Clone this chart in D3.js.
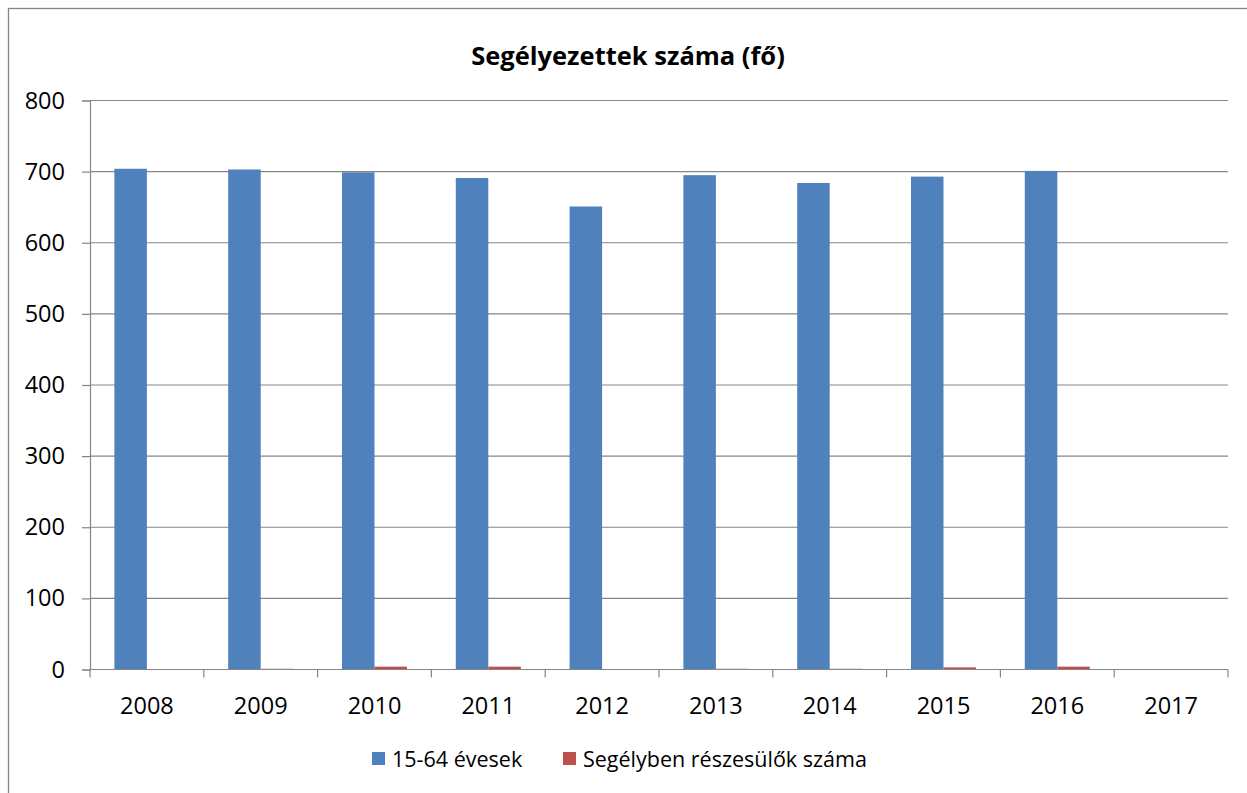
<!DOCTYPE html>
<html>
<head>
<meta charset="utf-8">
<script src="https://cdn.jsdelivr.net/npm/d3@7"></script>
<style>
  body { margin: 0; background: #fff; }
  text { font-family: 'Open Sans', 'Noto Sans', sans-serif; fill: #000; }
</style>
</head>
<body>
<svg id="chart"></svg>
<script>
const years = ['2008', '2009', '2010', '2011', '2012', '2013', '2014', '2015', '2016', '2017'];
const agedValues = [704, 703, 699, 691, 651, 695, 684, 693, 701, 0];
const aidValues = [0, 1, 4, 4, 0, 1, 1, 3, 4, 0];
const seriesNames = ['15-64 évesek', 'Segélyben részesülők száma'];
const seriesColors = ['#4f81bd', '#c0504d'];
const yTicks = [0, 100, 200, 300, 400, 500, 600, 700, 800];

const width = 1247;
const height = 793;
const margin = { top: 100.5, right: 19, bottom: 123.5, left: 90 };
const gridColor = '#868686';

const svg = d3.select('#chart')
  .attr('width', width)
  .attr('height', height);

// outer chart frame (runs off the right and bottom of the picture)
svg.append('rect')
  .attr('x', 8.5)
  .attr('y', 8.5)
  .attr('width', width + 20)
  .attr('height', height + 20)
  .attr('fill', 'none')
  .attr('stroke', gridColor)
  .attr('stroke-width', 1.3);

svg.append('text')
  .attr('x', 628)
  .attr('y', 65)
  .attr('font-size', '25.5px')
  .attr('font-weight', 'bold')
  .style('text-anchor', 'middle')
  .text('Segélyezettek száma (fő)');

const x = d3.scaleBand()
  .domain(years)
  .range([margin.left, width - margin.right])
  .paddingInner(0)
  .paddingOuter(0);

const inner = d3.scaleBand()
  .domain([0, 1])
  .range([0, x.bandwidth()])
  .paddingInner(0)
  .paddingOuter(0.75);

const y = d3.scaleLinear()
  .domain([0, 800])
  .range([height - margin.bottom, margin.top]);

// horizontal gridlines
svg.append('g')
  .selectAll('line')
  .data(yTicks.slice(1))
  .join('line')
  .attr('x1', margin.left)
  .attr('x2', width - margin.right)
  .attr('y1', d => y(d))
  .attr('y2', d => y(d))
  .attr('stroke', gridColor)
  .attr('stroke-width', 1.2);

const rows = years.map((yr, i) => ({ year: yr, values: [agedValues[i], aidValues[i]] }));

svg.append('g')
  .selectAll('g')
  .data(rows)
  .join('g')
  .attr('transform', d => `translate(${x(d.year)},0)`)
  .selectAll('rect')
  .data(d => d.values.map((v, k) => ({ k, v })))
  .join('rect')
  .attr('x', d => inner(d.k))
  .attr('width', inner.bandwidth())
  .attr('y', d => y(d.v))
  .attr('height', d => y(0) - y(d.v))
  .attr('fill', d => seriesColors[d.k]);

// y axis
const yAxis = svg.append('g')
  .attr('transform', `translate(${margin.left},0)`)
  .call(d3.axisLeft(y).tickValues(yTicks).tickSize(8).tickPadding(17).tickFormat(d3.format('d')));

// x axis
const xAxis = svg.append('g')
  .attr('transform', `translate(0,${y(0)})`)
  .call(d3.axisBottom(x).tickSize(0).tickPadding(28));

// category boundary ticks
svg.append('g')
  .selectAll('line')
  .data(years.concat(['end']))
  .join('line')
  .attr('x1', (d, i) => margin.left + i * x.step())
  .attr('x2', (d, i) => margin.left + i * x.step())
  .attr('y1', y(0))
  .attr('y2', y(0) + 8)
  .attr('stroke', gridColor)
  .attr('stroke-width', 1.2);

[yAxis, xAxis].forEach(ax => {
  ax.selectAll('.domain').attr('stroke', gridColor).attr('stroke-width', 1.2);
  ax.selectAll('.tick line').attr('stroke', gridColor).attr('stroke-width', 1.2);
  ax.selectAll('.tick text').attr('font-size', '23.5px').attr('font-family', null);
});
xAxis.select('.domain').attr('d', `M${margin.left},0H${width - margin.right}`);

// legend
const legendX = [372, 563];
const legend = svg.append('g')
  .selectAll('g')
  .data(seriesNames)
  .join('g')
  .attr('transform', (d, i) => `translate(${legendX[i]},752)`);

legend.append('rect')
  .attr('width', 13)
  .attr('height', 13)
  .attr('fill', (d, i) => seriesColors[i]);

legend.append('text')
  .attr('x', 20)
  .attr('y', 15)
  .attr('font-size', '21.5px')
  .text(d => d);
</script>
</body>
</html>
